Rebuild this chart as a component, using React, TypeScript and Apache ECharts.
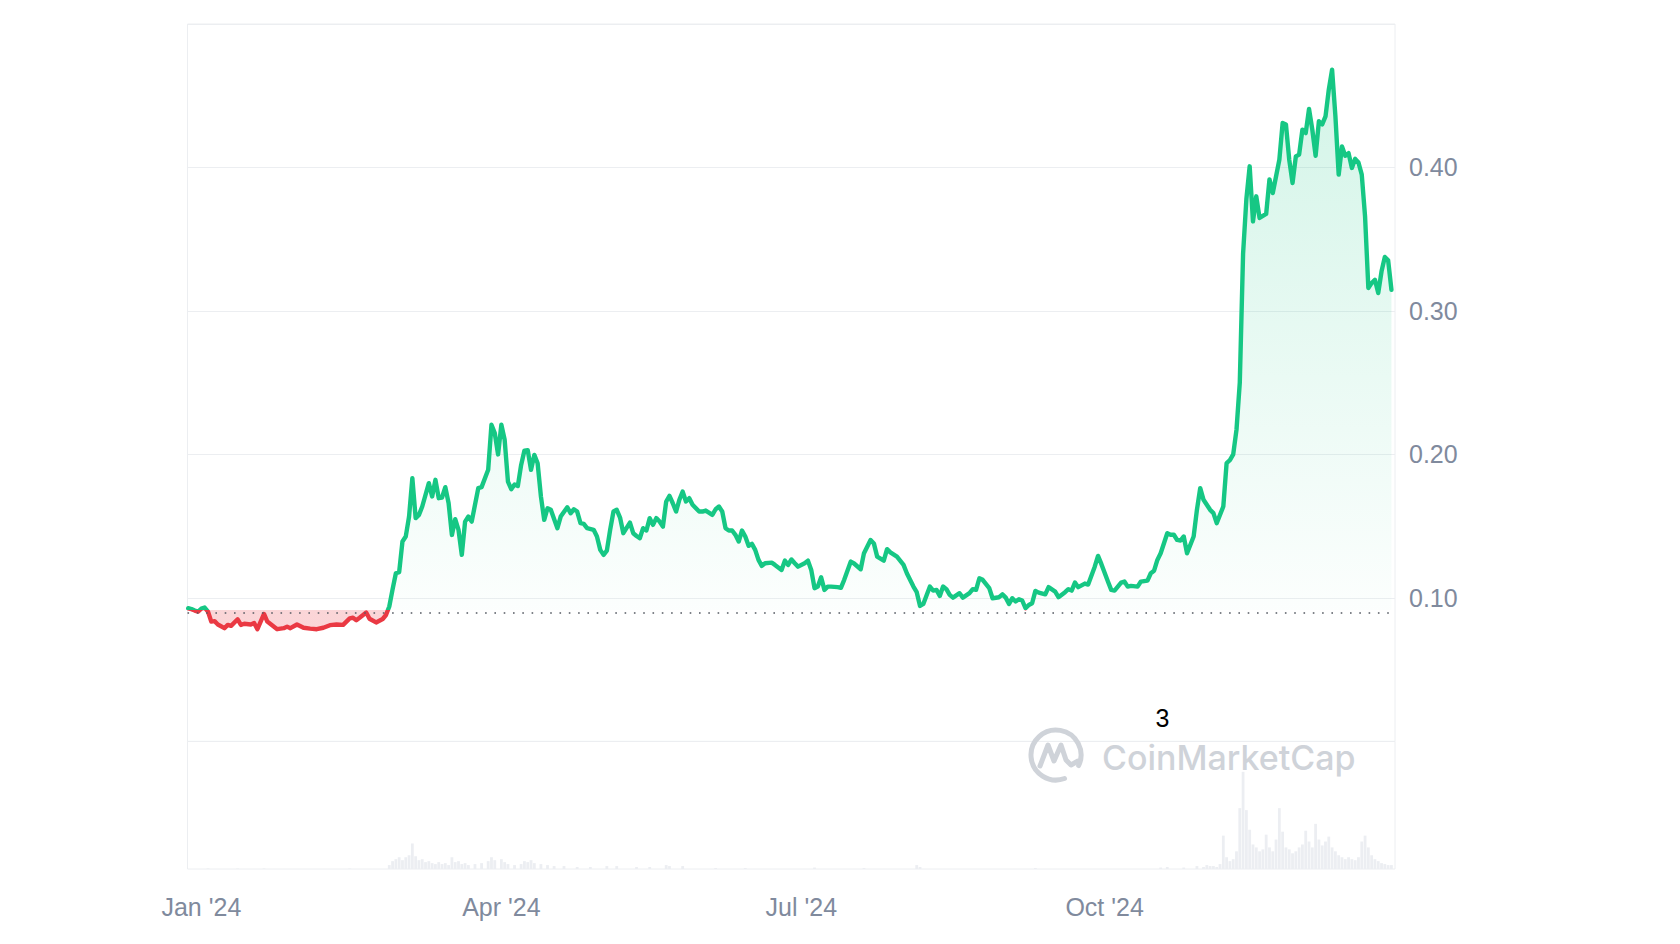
import React, { useEffect, useRef } from "react";
import * as echarts from "echarts";

// Daily price (USD)
const price: [string, number][] = [
  ["2023-12-28", 0.0928], ["2023-12-29", 0.0922], ["2023-12-30", 0.0912], ["2023-12-31", 0.0905],
  ["2024-01-01", 0.0925], ["2024-01-02", 0.0933], ["2024-01-03", 0.0905], ["2024-01-04", 0.0835],
  ["2024-01-05", 0.0838], ["2024-01-06", 0.0815], ["2024-01-08", 0.0789], ["2024-01-09", 0.0812],
  ["2024-01-10", 0.0805], ["2024-01-12", 0.0851], ["2024-01-13", 0.0812], ["2024-01-14", 0.082],
  ["2024-01-16", 0.0815], ["2024-01-17", 0.0825], ["2024-01-18", 0.0782], ["2024-01-20", 0.0888],
  ["2024-01-21", 0.0835], ["2024-01-24", 0.0782], ["2024-01-26", 0.0789], ["2024-01-27", 0.08],
  ["2024-01-28", 0.0789], ["2024-01-30", 0.0815], ["2024-02-01", 0.0792], ["2024-02-03", 0.0786],
  ["2024-02-05", 0.0782], ["2024-02-07", 0.0792], ["2024-02-09", 0.081], ["2024-02-11", 0.0815],
  ["2024-02-13", 0.0812], ["2024-02-15", 0.0857], ["2024-02-16", 0.0862], ["2024-02-17", 0.0845],
  ["2024-02-18", 0.0862], ["2024-02-20", 0.0898], ["2024-02-21", 0.0855], ["2024-02-23", 0.0829],
  ["2024-02-25", 0.0853], ["2024-02-26", 0.0881], ["2024-02-27", 0.094], ["2024-02-28", 0.106],
  ["2024-02-29", 0.1172], ["2024-03-01", 0.118], ["2024-03-02", 0.1393], ["2024-03-03", 0.1428],
  ["2024-03-04", 0.1567], ["2024-03-05", 0.1835], ["2024-03-06", 0.1556], ["2024-03-07", 0.1579],
  ["2024-03-08", 0.1637], ["2024-03-10", 0.18], ["2024-03-11", 0.1707], ["2024-03-12", 0.1823],
  ["2024-03-13", 0.1695], ["2024-03-14", 0.17], ["2024-03-15", 0.1772], ["2024-03-16", 0.166],
  ["2024-03-17", 0.1439], ["2024-03-18", 0.1549], ["2024-03-19", 0.1474], ["2024-03-20", 0.13],
  ["2024-03-21", 0.1532], ["2024-03-22", 0.1567], ["2024-03-23", 0.1532], ["2024-03-25", 0.1765],
  ["2024-03-26", 0.1772], ["2024-03-28", 0.1893], ["2024-03-29", 0.2207], ["2024-03-30", 0.2149],
  ["2024-03-31", 0.2], ["2024-04-01", 0.2207], ["2024-04-02", 0.2102], ["2024-04-03", 0.1811],
  ["2024-04-04", 0.1758], ["2024-04-05", 0.179], ["2024-04-06", 0.178], ["2024-04-07", 0.1927],
  ["2024-04-08", 0.2027], ["2024-04-09", 0.203], ["2024-04-10", 0.1893], ["2024-04-11", 0.1997],
  ["2024-04-12", 0.1939], ["2024-04-13", 0.1707], ["2024-04-14", 0.1544], ["2024-04-15", 0.1625],
  ["2024-04-16", 0.1614], ["2024-04-18", 0.1486], ["2024-04-19", 0.1567], ["2024-04-21", 0.1632],
  ["2024-04-22", 0.159], ["2024-04-23", 0.1618], ["2024-04-24", 0.1602], ["2024-04-25", 0.1521],
  ["2024-04-26", 0.1516], ["2024-04-27", 0.1486], ["2024-04-29", 0.1475], ["2024-04-30", 0.1428],
  ["2024-05-01", 0.1335], ["2024-05-02", 0.13], ["2024-05-03", 0.133], ["2024-05-04", 0.1474],
  ["2024-05-05", 0.1602], ["2024-05-06", 0.1614], ["2024-05-07", 0.156], ["2024-05-08", 0.1451],
  ["2024-05-10", 0.1525], ["2024-05-11", 0.1451], ["2024-05-12", 0.1432], ["2024-05-13", 0.1416],
  ["2024-05-14", 0.1486], ["2024-05-15", 0.147], ["2024-05-16", 0.1556], ["2024-05-17", 0.1509],
  ["2024-05-18", 0.1556], ["2024-05-19", 0.1532], ["2024-05-20", 0.1497], ["2024-05-21", 0.1672],
  ["2024-05-22", 0.1711], ["2024-05-23", 0.166], ["2024-05-24", 0.1602], ["2024-05-25", 0.1684],
  ["2024-05-26", 0.1741], ["2024-05-27", 0.1672], ["2024-05-28", 0.1695], ["2024-05-29", 0.1649],
  ["2024-05-31", 0.1602], ["2024-06-01", 0.1602], ["2024-06-02", 0.1609], ["2024-06-04", 0.1579],
  ["2024-06-05", 0.1618], ["2024-06-06", 0.1637], ["2024-06-07", 0.1602], ["2024-06-08", 0.1486],
  ["2024-06-09", 0.147], ["2024-06-10", 0.147], ["2024-06-11", 0.144], ["2024-06-12", 0.1393],
  ["2024-06-13", 0.147], ["2024-06-14", 0.1428], ["2024-06-15", 0.1363], ["2024-06-16", 0.1377],
  ["2024-06-17", 0.1335], ["2024-06-18", 0.1265], ["2024-06-19", 0.1223], ["2024-06-20", 0.1242],
  ["2024-06-22", 0.1246], ["2024-06-23", 0.123], ["2024-06-25", 0.1195], ["2024-06-26", 0.126],
  ["2024-06-27", 0.123], ["2024-06-28", 0.1268], ["2024-06-29", 0.1242], ["2024-06-30", 0.1218],
  ["2024-07-02", 0.1242], ["2024-07-03", 0.126], ["2024-07-04", 0.1195], ["2024-07-05", 0.1068],
  ["2024-07-06", 0.1079], ["2024-07-07", 0.1144], ["2024-07-08", 0.1056], ["2024-07-09", 0.1079],
  ["2024-07-10", 0.1079], ["2024-07-12", 0.1075], ["2024-07-13", 0.107], ["2024-07-14", 0.1126],
  ["2024-07-16", 0.1253], ["2024-07-17", 0.124], ["2024-07-19", 0.12], ["2024-07-20", 0.1312],
  ["2024-07-22", 0.1404], ["2024-07-23", 0.138], ["2024-07-24", 0.1288], ["2024-07-26", 0.126],
  ["2024-07-27", 0.134], ["2024-07-28", 0.1318], ["2024-07-30", 0.1288], ["2024-08-01", 0.123],
  ["2024-08-02", 0.1172], ["2024-08-04", 0.1079], ["2024-08-05", 0.104], ["2024-08-06", 0.0944],
  ["2024-08-07", 0.0958], ["2024-08-09", 0.1079], ["2024-08-10", 0.1051], ["2024-08-11", 0.1056],
  ["2024-08-12", 0.1014], ["2024-08-13", 0.1079], ["2024-08-14", 0.1061], ["2024-08-15", 0.1021],
  ["2024-08-16", 0.1002], ["2024-08-18", 0.1033], ["2024-08-19", 0.1002], ["2024-08-21", 0.1033],
  ["2024-08-22", 0.1061], ["2024-08-23", 0.1056], ["2024-08-24", 0.1137], ["2024-08-25", 0.1126],
  ["2024-08-27", 0.1068], ["2024-08-28", 0.0998], ["2024-08-30", 0.1005], ["2024-08-31", 0.1025],
  ["2024-09-01", 0.1002], ["2024-09-02", 0.0958], ["2024-09-03", 0.0998], ["2024-09-04", 0.0975],
  ["2024-09-05", 0.0991], ["2024-09-06", 0.0982], ["2024-09-07", 0.0928], ["2024-09-08", 0.0951],
  ["2024-09-09", 0.0963], ["2024-09-10", 0.1049], ["2024-09-11", 0.1037], ["2024-09-13", 0.1025],
  ["2024-09-14", 0.1075], ["2024-09-16", 0.1044], ["2024-09-17", 0.1005], ["2024-09-19", 0.104],
  ["2024-09-20", 0.1061], ["2024-09-21", 0.1051], ["2024-09-22", 0.1107], ["2024-09-23", 0.1075],
  ["2024-09-25", 0.11], ["2024-09-26", 0.1093], ["2024-09-28", 0.1218], ["2024-09-29", 0.1293],
  ["2024-09-30", 0.1237], ["2024-10-02", 0.1114], ["2024-10-03", 0.1056], ["2024-10-04", 0.1051],
  ["2024-10-06", 0.1107], ["2024-10-07", 0.1114], ["2024-10-08", 0.1079], ["2024-10-09", 0.1084],
  ["2024-10-11", 0.1079], ["2024-10-12", 0.1114], ["2024-10-14", 0.1121], ["2024-10-15", 0.1172],
  ["2024-10-16", 0.119], ["2024-10-17", 0.1265], ["2024-10-18", 0.1311], ["2024-10-20", 0.1451],
  ["2024-10-21", 0.144], ["2024-10-22", 0.144], ["2024-10-23", 0.1404], ["2024-10-24", 0.14],
  ["2024-10-25", 0.1428], ["2024-10-26", 0.1311], ["2024-10-28", 0.1428], ["2024-10-29", 0.1614],
  ["2024-10-30", 0.1765], ["2024-10-31", 0.1684], ["2024-11-02", 0.1614], ["2024-11-03", 0.1591],
  ["2024-11-04", 0.1521], ["2024-11-06", 0.1637], ["2024-11-07", 0.194], ["2024-11-08", 0.196],
  ["2024-11-09", 0.2], ["2024-11-10", 0.2172], ["2024-11-11", 0.25], ["2024-11-12", 0.34],
  ["2024-11-13", 0.378], ["2024-11-14", 0.4008], ["2024-11-15", 0.3624], ["2024-11-16", 0.3799],
  ["2024-11-17", 0.3648], ["2024-11-19", 0.3676], ["2024-11-20", 0.3917], ["2024-11-21", 0.3822],
  ["2024-11-23", 0.4054], ["2024-11-24", 0.431], ["2024-11-25", 0.43], ["2024-11-26", 0.4054],
  ["2024-11-27", 0.3892], ["2024-11-28", 0.4077], ["2024-11-29", 0.409], ["2024-11-30", 0.4264],
  ["2024-12-01", 0.424], ["2024-12-02", 0.4408], ["2024-12-03", 0.4264], ["2024-12-04", 0.4082],
  ["2024-12-05", 0.4322], ["2024-12-06", 0.43], ["2024-12-07", 0.4356], ["2024-12-08", 0.4543],
  ["2024-12-09", 0.4682], ["2024-12-10", 0.436], ["2024-12-11", 0.395], ["2024-12-12", 0.4147],
  ["2024-12-13", 0.4082], ["2024-12-14", 0.41], ["2024-12-15", 0.3997], ["2024-12-16", 0.406],
  ["2024-12-17", 0.4035], ["2024-12-18", 0.395], ["2024-12-19", 0.3659], ["2024-12-20", 0.316],
  ["2024-12-21", 0.3194], ["2024-12-22", 0.3217], ["2024-12-23", 0.3125], ["2024-12-24", 0.3276],
  ["2024-12-25", 0.3376], ["2024-12-26", 0.3353], ["2024-12-27", 0.3148],
];

// Daily trading volume (relative units) at the bottom
const volume: [string, number][] = [
  ["2024-01-03", 0.6], ["2024-01-12", 0.5], ["2024-01-20", 0.6], ["2024-02-15", 0.5],
  ["2024-02-27", 4], ["2024-02-28", 8], ["2024-02-29", 10], ["2024-03-01", 12], ["2024-03-02", 9],
  ["2024-03-03", 12], ["2024-03-04", 14], ["2024-03-05", 26], ["2024-03-06", 13], ["2024-03-07", 9],
  ["2024-03-08", 10], ["2024-03-09", 7], ["2024-03-10", 8], ["2024-03-11", 6], ["2024-03-12", 5],
  ["2024-03-13", 7], ["2024-03-14", 5], ["2024-03-15", 6], ["2024-03-16", 4], ["2024-03-17", 12],
  ["2024-03-18", 7], ["2024-03-19", 8], ["2024-03-20", 5], ["2024-03-21", 6], ["2024-03-22", 4],
  ["2024-03-24", 5], ["2024-03-26", 6], ["2024-03-28", 8], ["2024-03-29", 12], ["2024-03-30", 9],
  ["2024-04-01", 10], ["2024-04-02", 7], ["2024-04-03", 5], ["2024-04-05", 4], ["2024-04-07", 5],
  ["2024-04-08", 8], ["2024-04-09", 7], ["2024-04-10", 9], ["2024-04-11", 6], ["2024-04-13", 5],
  ["2024-04-15", 4], ["2024-04-17", 3], ["2024-04-20", 3], ["2024-04-24", 2], ["2024-04-28", 2],
  ["2024-05-03", 3], ["2024-05-06", 3], ["2024-05-12", 2], ["2024-05-16", 2], ["2024-05-21", 4],
  ["2024-05-22", 3], ["2024-05-26", 3], ["2024-06-05", 1], ["2024-06-14", 1], ["2024-07-05", 1.5],
  ["2024-07-20", 1], ["2024-08-05", 4], ["2024-08-06", 2], ["2024-09-10", 1], ["2024-10-18", 1.5],
  ["2024-10-20", 2], ["2024-10-25", 1.5], ["2024-10-29", 3], ["2024-10-31", 2], ["2024-11-01", 4],
  ["2024-11-02", 3], ["2024-11-03", 3], ["2024-11-04", 2], ["2024-11-05", 5], ["2024-11-06", 34],
  ["2024-11-07", 12], ["2024-11-08", 8], ["2024-11-09", 10], ["2024-11-10", 18], ["2024-11-11", 62],
  ["2024-11-12", 99], ["2024-11-13", 60], ["2024-11-14", 40], ["2024-11-15", 25], ["2024-11-16", 22],
  ["2024-11-17", 18], ["2024-11-18", 20], ["2024-11-19", 35], ["2024-11-20", 22], ["2024-11-21", 18],
  ["2024-11-22", 30], ["2024-11-23", 62], ["2024-11-24", 38], ["2024-11-25", 22], ["2024-11-26", 20],
  ["2024-11-27", 16], ["2024-11-28", 18], ["2024-11-29", 22], ["2024-11-30", 25], ["2024-12-01", 39],
  ["2024-12-02", 28], ["2024-12-03", 22], ["2024-12-04", 46], ["2024-12-05", 30], ["2024-12-06", 24],
  ["2024-12-07", 28], ["2024-12-08", 33], ["2024-12-09", 22], ["2024-12-10", 18], ["2024-12-11", 14],
  ["2024-12-12", 12], ["2024-12-13", 10], ["2024-12-14", 12], ["2024-12-15", 10], ["2024-12-16", 9],
  ["2024-12-17", 12], ["2024-12-18", 28], ["2024-12-19", 34], ["2024-12-20", 22], ["2024-12-21", 14],
  ["2024-12-22", 10], ["2024-12-23", 8], ["2024-12-24", 6], ["2024-12-25", 5], ["2024-12-26", 4],
  ["2024-12-27", 4],
];

const baseline = 0.0916; // opening price of the period (dotted reference line)
const xTickDates = ["2024-01-01", "2024-04-01", "2024-07-01", "2024-10-01"];
const monthNames = ["Jan", "Feb", "Mar", "Apr", "May", "Jun", "Jul", "Aug", "Sep", "Oct", "Nov", "Dec"];
const yMin = 0;
const yMax = 0.5;
const yStep = 0.1;

function ts(s: string): number {
  const [y, m, d] = s.split("-").map(Number);
  return new Date(y, m - 1, d).getTime();
}

export default function App() {
  const ref = useRef<HTMLDivElement>(null);

  useEffect(() => {
    if (!ref.current) return;
    const chart = echarts.init(ref.current, null, { renderer: "svg" });

    const values = price.map((p) => p[1]);
    const maxV = Math.max(...values);
    const minV = Math.min(...values);
    const stop = (maxV - baseline) / (maxV - minV);

    const green = "#16c784";
    const red = "#ea3943";
    const labelColor = "#808a9d";
    const gridColor = "#eceef1";
    const wm = "#cfd3d9";
    const font = "'Liberation Sans', Arial, sans-serif";

    const axisMin = new Date(2023, 11, 27, 19).getTime();
    const axisMax = new Date(2024, 11, 28, 2).getTime();

    const lineColor = new echarts.graphic.LinearGradient(0, 0, 0, 1, [
      { offset: 0, color: green },
      { offset: stop, color: green },
      { offset: stop, color: red },
      { offset: 1, color: red },
    ]);
    const areaColor = new echarts.graphic.LinearGradient(0, 0, 0, 1, [
      { offset: 0, color: "rgba(22,199,132,0.27)" },
      { offset: stop, color: "rgba(22,199,132,0.02)" },
      { offset: stop, color: "rgba(234,57,67,0.3)" },
      { offset: 1, color: "rgba(234,57,67,0.3)" },
    ]);

    const option: any = {
      animation: false,
      grid: [
        { left: 187.5, top: 24, width: 1207.5, height: 717.4, show: true, borderColor: gridColor, borderWidth: 1, backgroundColor: "transparent" },
        { left: 187.5, top: 741.4, width: 1207.5, height: 127.6, show: true, borderColor: gridColor, borderWidth: 1, backgroundColor: "transparent" },
      ],
      xAxis: [
        {
          type: "value", gridIndex: 0, min: axisMin, max: axisMax, scale: true,
          axisLine: { show: false }, axisTick: { show: false }, axisLabel: { show: false }, splitLine: { show: false },
        },
        {
          type: "value", gridIndex: 1, min: axisMin, max: axisMax, scale: true,
          axisLine: { show: false }, axisTick: { show: false }, splitLine: { show: false },
          axisLabel: {
            show: true,
            customValues: xTickDates.map(ts),
            formatter: (v: number) => {
              const d = new Date(v);
              return `${monthNames[d.getMonth()]} '${String(d.getFullYear()).slice(2)}`;
            },
            color: labelColor, fontSize: 25, fontFamily: font, margin: 25,
            hideOverlap: false,
          },
        },
      ],
      yAxis: [
        {
          type: "value", gridIndex: 0, position: "right", min: yMin, max: yMax, interval: yStep,
          axisLine: { show: false }, axisTick: { show: false },
          splitLine: { show: true, lineStyle: { color: gridColor, width: 1 } },
          axisLabel: {
            color: labelColor, fontSize: 25, fontFamily: font, margin: 14,
            formatter: (v: number) => (v > yMin + 1e-9 && v < yMax - 1e-9 ? v.toFixed(2) : ""),
          },
        },
        {
          type: "value", gridIndex: 1, min: 0, max: 130,
          axisLine: { show: false }, axisTick: { show: false }, axisLabel: { show: false }, splitLine: { show: false },
        },
      ],
      series: [
        {
          type: "bar", xAxisIndex: 1, yAxisIndex: 1,
          data: volume.map((v) => [ts(v[0]), v[1]]),
          barWidth: 2.8, itemStyle: { color: "#eceef2" }, silent: true,
        },
        {
          type: "line", xAxisIndex: 0, yAxisIndex: 0,
          data: price.map((p) => [ts(p[0]), p[1]]),
          showSymbol: false, symbol: "none", smooth: false,
          lineStyle: { color: lineColor, width: 4.4, join: "round", cap: "round" },
          itemStyle: { color: green },
          areaStyle: { color: areaColor, origin: baseline },
          silent: true, z: 3,
          markLine: {
            silent: true, symbol: "none", label: { show: false },
            lineStyle: { color: "#555a63", width: 1.6, type: [1.6, 7.7] },
            data: [{ yAxis: baseline }],
          },
        },
      ],
      graphic: [
        {
          type: "arc", silent: true, z: 1,
          shape: { cx: 1056, cy: 755, r: 25, startAngle: (70 * Math.PI) / 180, endAngle: (385 * Math.PI) / 180 },
          style: { stroke: wm, lineWidth: 5, fill: "none", lineCap: "round" },
        },
        {
          type: "polyline", silent: true, z: 1,
          shape: { points: [[1040, 766], [1048, 745], [1054, 761], [1061, 745], [1066, 760], [1071, 765], [1078, 761]] },
          style: { stroke: wm, lineWidth: 5, fill: "none", lineJoin: "round", lineCap: "round" },
        },
        {
          type: "text", silent: true, z: 1, x: 1102, y: 757,
          style: { text: "CoinMarketCap", fontSize: 34, fontWeight: 500, fontFamily: "Inter, 'Noto Sans', sans-serif", fill: wm, align: "left", verticalAlign: "middle" },
        },
        {
          type: "text", silent: true, z: 10, x: 1162.5, y: 718,
          style: { text: "3", fontSize: 25, fontFamily: font, fill: "#000000", align: "center", verticalAlign: "middle" },
        },
      ],
    };

    chart.setOption(option);
    return () => chart.dispose();
  }, []);

  return <div ref={ref} style={{ position: "fixed", left: 0, top: 0, width: 1680, height: 944, background: "#ffffff" }} />;
}
